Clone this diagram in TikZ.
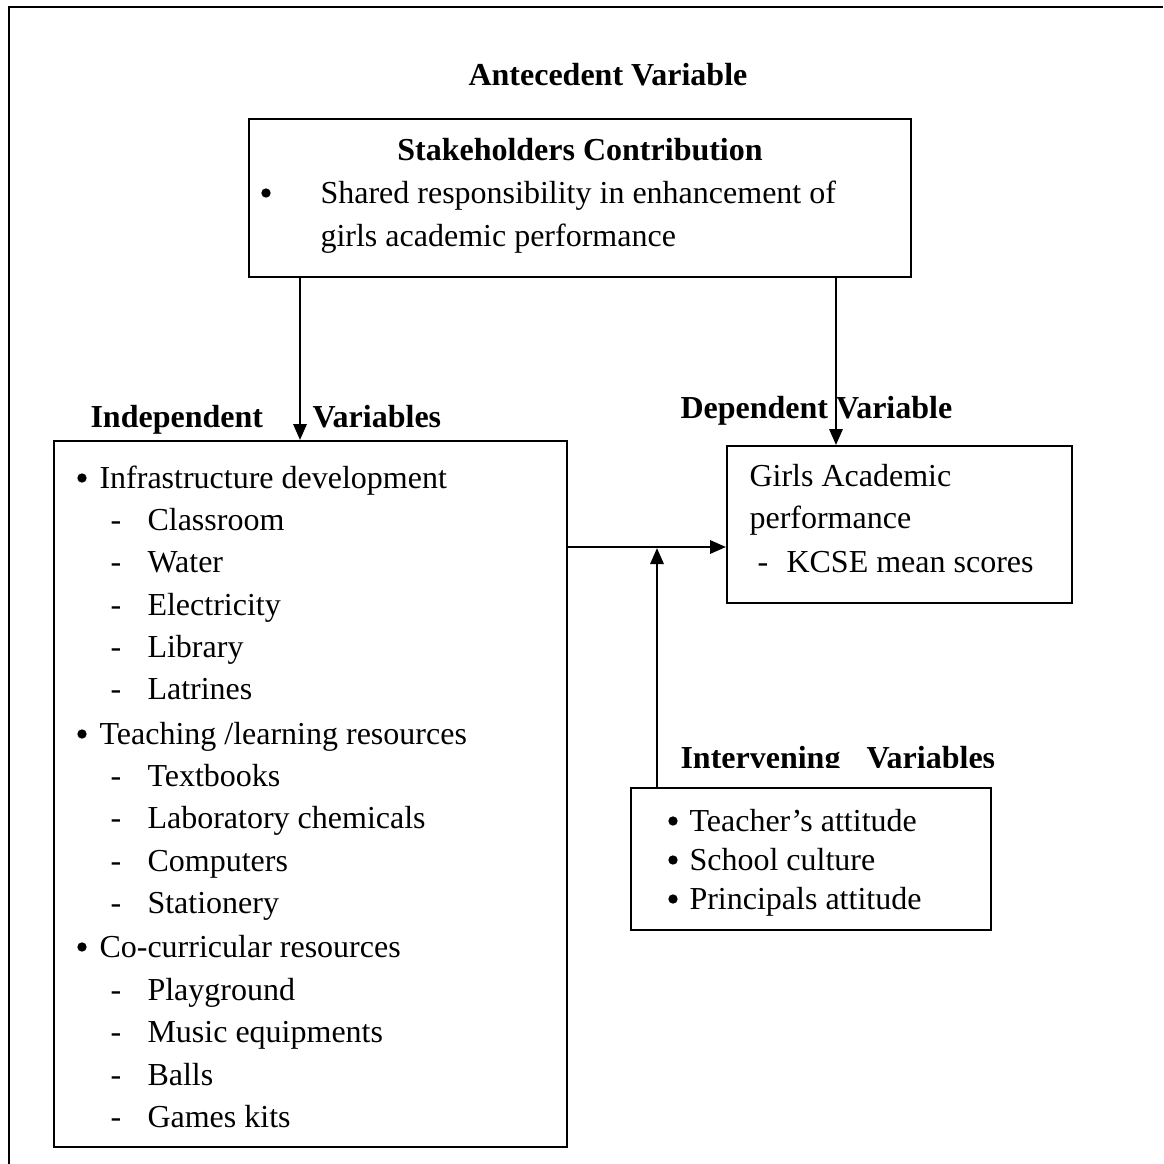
\documentclass[tikz,border=0pt]{standalone}
\usepackage{fontspec}
\setmainfont{Liberation Serif}
\usetikzlibrary{arrows.meta}
\begin{document}
\begin{tikzpicture}[x=0.375pt,y=-0.375pt,
  txt/.style={anchor=base west,inner sep=0pt,font=\fontsize{12}{14}\selectfont},
  bul/.style={circle,fill=black,inner sep=0pt,minimum size=3.5pt},
  hd/.style={anchor=base west,inner sep=0pt,font=\fontsize{12}{14}\selectfont\bfseries},
  box/.style={draw,line width=0.75pt,inner sep=0pt,rectangle},
  arr/.style={line width=0.85pt,-{Triangle[length=6pt,width=5pt]}}]
\useasboundingbox (0,0) rectangle (1163,1164);
% outer frame (cropped)
\draw[line width=1.1pt] (9,1164) -- (9,7) -- (1163,7);

% headings
\node[hd] (hant) at (468,85) {Antecedent Variable};
\node[hd] (hind1) at (90,427) {Independent};
\node[hd] (hind2) at (312,427) {Variables};
\node[hd] (hdep) at (680,418) {Dependent Variable};
\begin{scope}
\clip (600,700) rectangle (1050,767);
\node[hd] (hint1) at (680,768) {Intervening};
\node[hd] (hint2) at (866,768) {Variables};
\end{scope}

% boxes
\node[box,minimum width={662*0.375pt},minimum height={158*0.375pt}] (stake) at (580,198) {};
\node[box,minimum width={513*0.375pt},minimum height={706*0.375pt}] (indep) at (310.5,794) {};
\node[box,minimum width={345*0.375pt},minimum height={157*0.375pt}] (dep) at (899.5,524.5) {};
\node[box,minimum width={360*0.375pt},minimum height={142*0.375pt}] (interv) at (811,859) {};

% stakeholders text
\node[hd,anchor=base] (st) at (580,160) {Stakeholders Contribution};
\node[bul] (sb) at (266,193) {};
\node[txt] (s1) at (320,203) {Shared responsibility in enhancement of};
\node[txt] (s2) at (320,246) {girls academic performance};

% independent list
\node[bul] (b1) at (82,478) {};
\node[txt] (i1) at (99,488) {Infrastructure development};
\node[txt] (d1) at (110,530) {-}; \node[txt] (i1a) at (147,530) {Classroom};
\node[txt] (d2) at (110,572) {-}; \node[txt] (i1b) at (147,572) {Water};
\node[txt] (d3) at (110,615) {-}; \node[txt] (i1c) at (147,615) {Electricity};
\node[txt] (d4) at (110,657) {-}; \node[txt] (i1d) at (147,657) {Library};
\node[txt] (d5) at (110,699) {-}; \node[txt] (i1e) at (147,699) {Latrines};
\node[bul] (b2) at (82,734) {};
\node[txt] (i2) at (99,744) {Teaching /learning resources};
\node[txt] (d6) at (110,786) {-}; \node[txt] (i2a) at (147,786) {Textbooks};
\node[txt] (d7) at (110,828) {-}; \node[txt] (i2b) at (147,828) {Laboratory chemicals};
\node[txt] (d8) at (110,871) {-}; \node[txt] (i2c) at (147,871) {Computers};
\node[txt] (d9) at (110,913) {-}; \node[txt] (i2d) at (147,913) {Stationery};
\node[bul] (b3) at (82,947) {};
\node[txt] (i3) at (99,957) {Co-curricular resources};
\node[txt] (d10) at (110,1000) {-}; \node[txt] (i3a) at (147,1000) {Playground};
\node[txt] (d11) at (110,1042) {-}; \node[txt] (i3b) at (147,1042) {Music equipments};
\node[txt] (d12) at (110,1085) {-}; \node[txt] (i3c) at (147,1085) {Balls};
\node[txt] (d13) at (110,1127) {-}; \node[txt] (i3d) at (147,1127) {Games kits};

% dependent text
\node[txt] (g1) at (749,486) {Girls Academic};
\node[txt] (g2) at (749,528) {performance};
\node[txt] (gd) at (757,572) {-};
\node[txt] (g3) at (786,572) {KCSE mean scores};

% intervening text
\node[bul] (vb1) at (673,821) {}; \node[txt] (v1) at (689,831) {Teacher’s attitude};
\node[bul] (vb2) at (673,860) {}; \node[txt] (v2) at (689,870) {School culture};
\node[bul] (vb3) at (673,899) {}; \node[txt] (v3) at (689,909) {Principals attitude};

% connectors
\coordinate (xa) at (300,0);
\coordinate (xb) at (836,0);
\coordinate (xv) at (657,0);
\coordinate (yh) at (0,547);
\draw[arr] (stake.south -| xa) -- (indep.north -| xa);
\draw[arr] (stake.south -| xb) -- (dep.north -| xb);
\draw[arr] (indep.east |- yh) -- (dep.west |- yh);
\draw[arr] (interv.north -| xv) -- ([yshift=-0.4pt]xv |- yh);
\end{tikzpicture}
\end{document}
